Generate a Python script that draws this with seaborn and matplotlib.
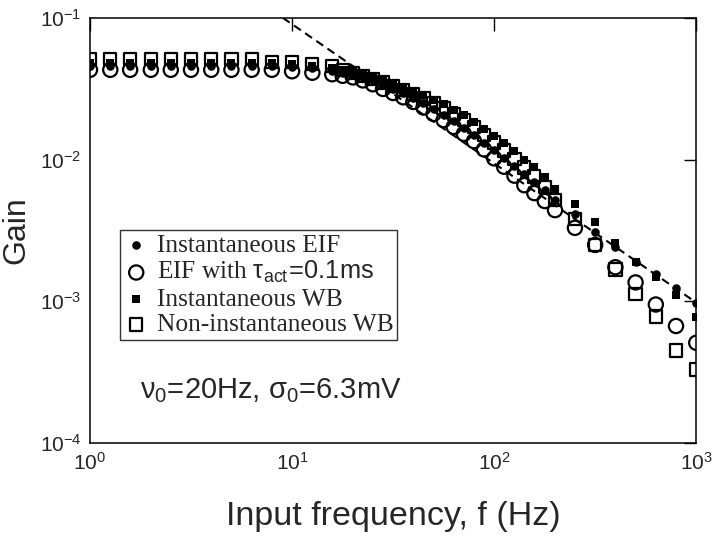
import matplotlib
matplotlib.use("Agg")
import numpy as np
import pandas as pd
import matplotlib.pyplot as plt
import seaborn as sns

# input frequencies (Hz)
freq = [1.0, 1.26, 1.58, 2.0, 2.51, 3.16, 3.98, 5.01, 6.31, 7.94, 10.0, 12.6, 15.8,
        17.8, 20.0, 22.4, 25.1, 28.2, 31.6, 35.5, 39.8, 44.7, 50.1, 56.2, 63.1, 70.8,
        79.4, 89.1, 100.0, 112.0, 126.0, 141.0, 158.0, 178.0,
        200.0, 251.0, 316.0, 398.0, 501.0, 631.0, 794.0, 1000.0]

# Instantaneous EIF (filled circles)
gain_eif = [0.0455, 0.0455, 0.0455, 0.0455, 0.0455, 0.0455, 0.0455, 0.0455, 0.0455, 0.0455, 0.045, 0.044, 0.042,
            0.041, 0.040, 0.0385, 0.0362, 0.0337, 0.0315, 0.0293, 0.027, 0.025, 0.0228, 0.0207, 0.0187, 0.0168,
            0.015, 0.0132, 0.0116, 0.0102, 0.009, 0.0079, 0.007, 0.0061,
            0.0052, 0.0041, 0.0031, 0.0024, 0.0019, 0.00155, 0.00125, 0.00098]

# EIF with tau_act = 0.1 ms (open circles)
gain_eif_act = [0.043, 0.043, 0.043, 0.043, 0.043, 0.043, 0.043, 0.043, 0.043, 0.043, 0.042, 0.041, 0.040,
                0.039, 0.038, 0.0362, 0.034, 0.0315, 0.0295, 0.0275, 0.0255, 0.0233, 0.021, 0.019, 0.017, 0.0152,
                0.0135, 0.0118, 0.0102, 0.0089, 0.0077, 0.0066, 0.0058, 0.0051,
                0.0044, 0.0033, 0.0025, 0.00174, 0.00136, 0.00095, 0.00067, 0.00051]

# Instantaneous WB (filled squares)
gain_wb = [0.048, 0.048, 0.048, 0.048, 0.048, 0.048, 0.048, 0.048, 0.048, 0.048, 0.047, 0.046, 0.044,
           0.043, 0.042, 0.0405, 0.0385, 0.0365, 0.0345, 0.0325, 0.0305, 0.0285, 0.0265, 0.0245, 0.0225, 0.0205,
           0.0185, 0.0165, 0.0147, 0.013, 0.0115, 0.01, 0.0088, 0.0075,
           0.0062, 0.0049, 0.0036, 0.0026, 0.0019, 0.00148, 0.0011, 0.00078]

# Non-instantaneous WB (open squares)
gain_wb_non = [0.051, 0.051, 0.051, 0.051, 0.051, 0.051, 0.051, 0.051, 0.051, 0.049, 0.049, 0.047, 0.046,
               0.043, 0.041, 0.039, 0.037, 0.035, 0.033, 0.031, 0.029, 0.027, 0.025, 0.023, 0.021, 0.019,
               0.017, 0.015, 0.0132, 0.0116, 0.0101, 0.0088, 0.0076, 0.0064,
               0.0052, 0.0038, 0.0025, 0.00168, 0.00112, 0.00078, 0.00045, 0.00033]

# high-frequency asymptote (dashed)
asym_f = [9.0, 1000.0]
asym_g = [0.1, 0.00098]

df = pd.DataFrame({"f": freq, "eif": gain_eif, "eif_act": gain_eif_act,
                   "wb": gain_wb, "wb_non": gain_wb_non})

sns.set_style("white")
plt.rcParams["font.family"] = ["Liberation Sans", "DejaVu Sans"]
plt.rcParams["mathtext.fontset"] = "custom"
plt.rcParams["mathtext.rm"] = "Liberation Sans"
plt.rcParams["mathtext.it"] = "Liberation Sans:italic"
plt.rcParams["mathtext.sf"] = "Liberation Sans"

fig = plt.figure(figsize=(7.2, 5.41), dpi=100)
ax = fig.add_axes([0.125, 0.181, 0.842, 0.786])

sns.lineplot(x=asym_f, y=asym_g, ax=ax, color="black", linestyle=(0, (4, 2.5)), linewidth=1.5, zorder=1)

sns.scatterplot(data=df, x="f", y="eif", ax=ax, marker="o", s=38, color="black",
                edgecolor="black", linewidth=0, zorder=3, label="Instantaneous EIF")
sns.scatterplot(data=df, x="f", y="eif_act", ax=ax, marker="o", s=105, facecolors="none",
                edgecolor="black", linewidth=1.6, zorder=3,
                label=r"EIF with $\mathrm{\tau_{act}\!=\!0.1ms}$")
sns.scatterplot(data=df, x="f", y="wb", ax=ax, marker="s", s=30, color="black",
                edgecolor="black", linewidth=0, zorder=3, label="Instantaneous WB")
sns.scatterplot(data=df, x="f", y="wb_non", ax=ax, marker="s", s=78, facecolors="none",
                edgecolor="black", linewidth=1.6, zorder=3, label="Non-instantaneous WB")

ax.set_xscale("log")
ax.set_yscale("log")
ax.set_xlim(1, 1000)
ax.set_ylim(1e-4, 1e-1)
ax.set_xticks([1, 10, 100, 1000])
ax.set_xticklabels([r"$10^{0}$", r"$10^{1}$", r"$10^{2}$", r"$10^{3}$"])
ax.set_yticks([1e-4, 1e-3, 1e-2, 1e-1])
ax.set_yticklabels([r"$10^{-4}$", r"$10^{-3}$", r"$10^{-2}$", r"$10^{-1}$"])
ax.minorticks_off()
ax.tick_params(which="major", direction="in", length=9, width=1, top=True, right=True,
               labelsize=15, pad=6, color="black")
for sp in ax.spines.values():
    sp.set_color("black")
    sp.set_linewidth(1.1)

ax.set_xlabel("Input frequency, f (Hz)", fontsize=24.5, labelpad=20)
ax.set_ylabel("Gain", fontsize=23, labelpad=6)

leg = ax.legend(loc="upper left", bbox_to_anchor=(0.049, 0.501), borderaxespad=0,
                prop={"family": "Liberation Serif", "size": 18.3}, frameon=True, fancybox=False,
                handletextpad=0.3, labelspacing=0.1, borderpad=0.15, handlelength=1.0,
                markerscale=1.0)
leg.get_frame().set_edgecolor("black")
leg.get_frame().set_linewidth(1.0)

ax.text(0.0825, 0.106, r"$\mathrm{\nu_0}$=20Hz, $\mathrm{\sigma_0}$=6.3mV", transform=ax.transAxes,
        fontsize=21, va="baseline", ha="left")

fig.savefig("out.png", dpi=100)
